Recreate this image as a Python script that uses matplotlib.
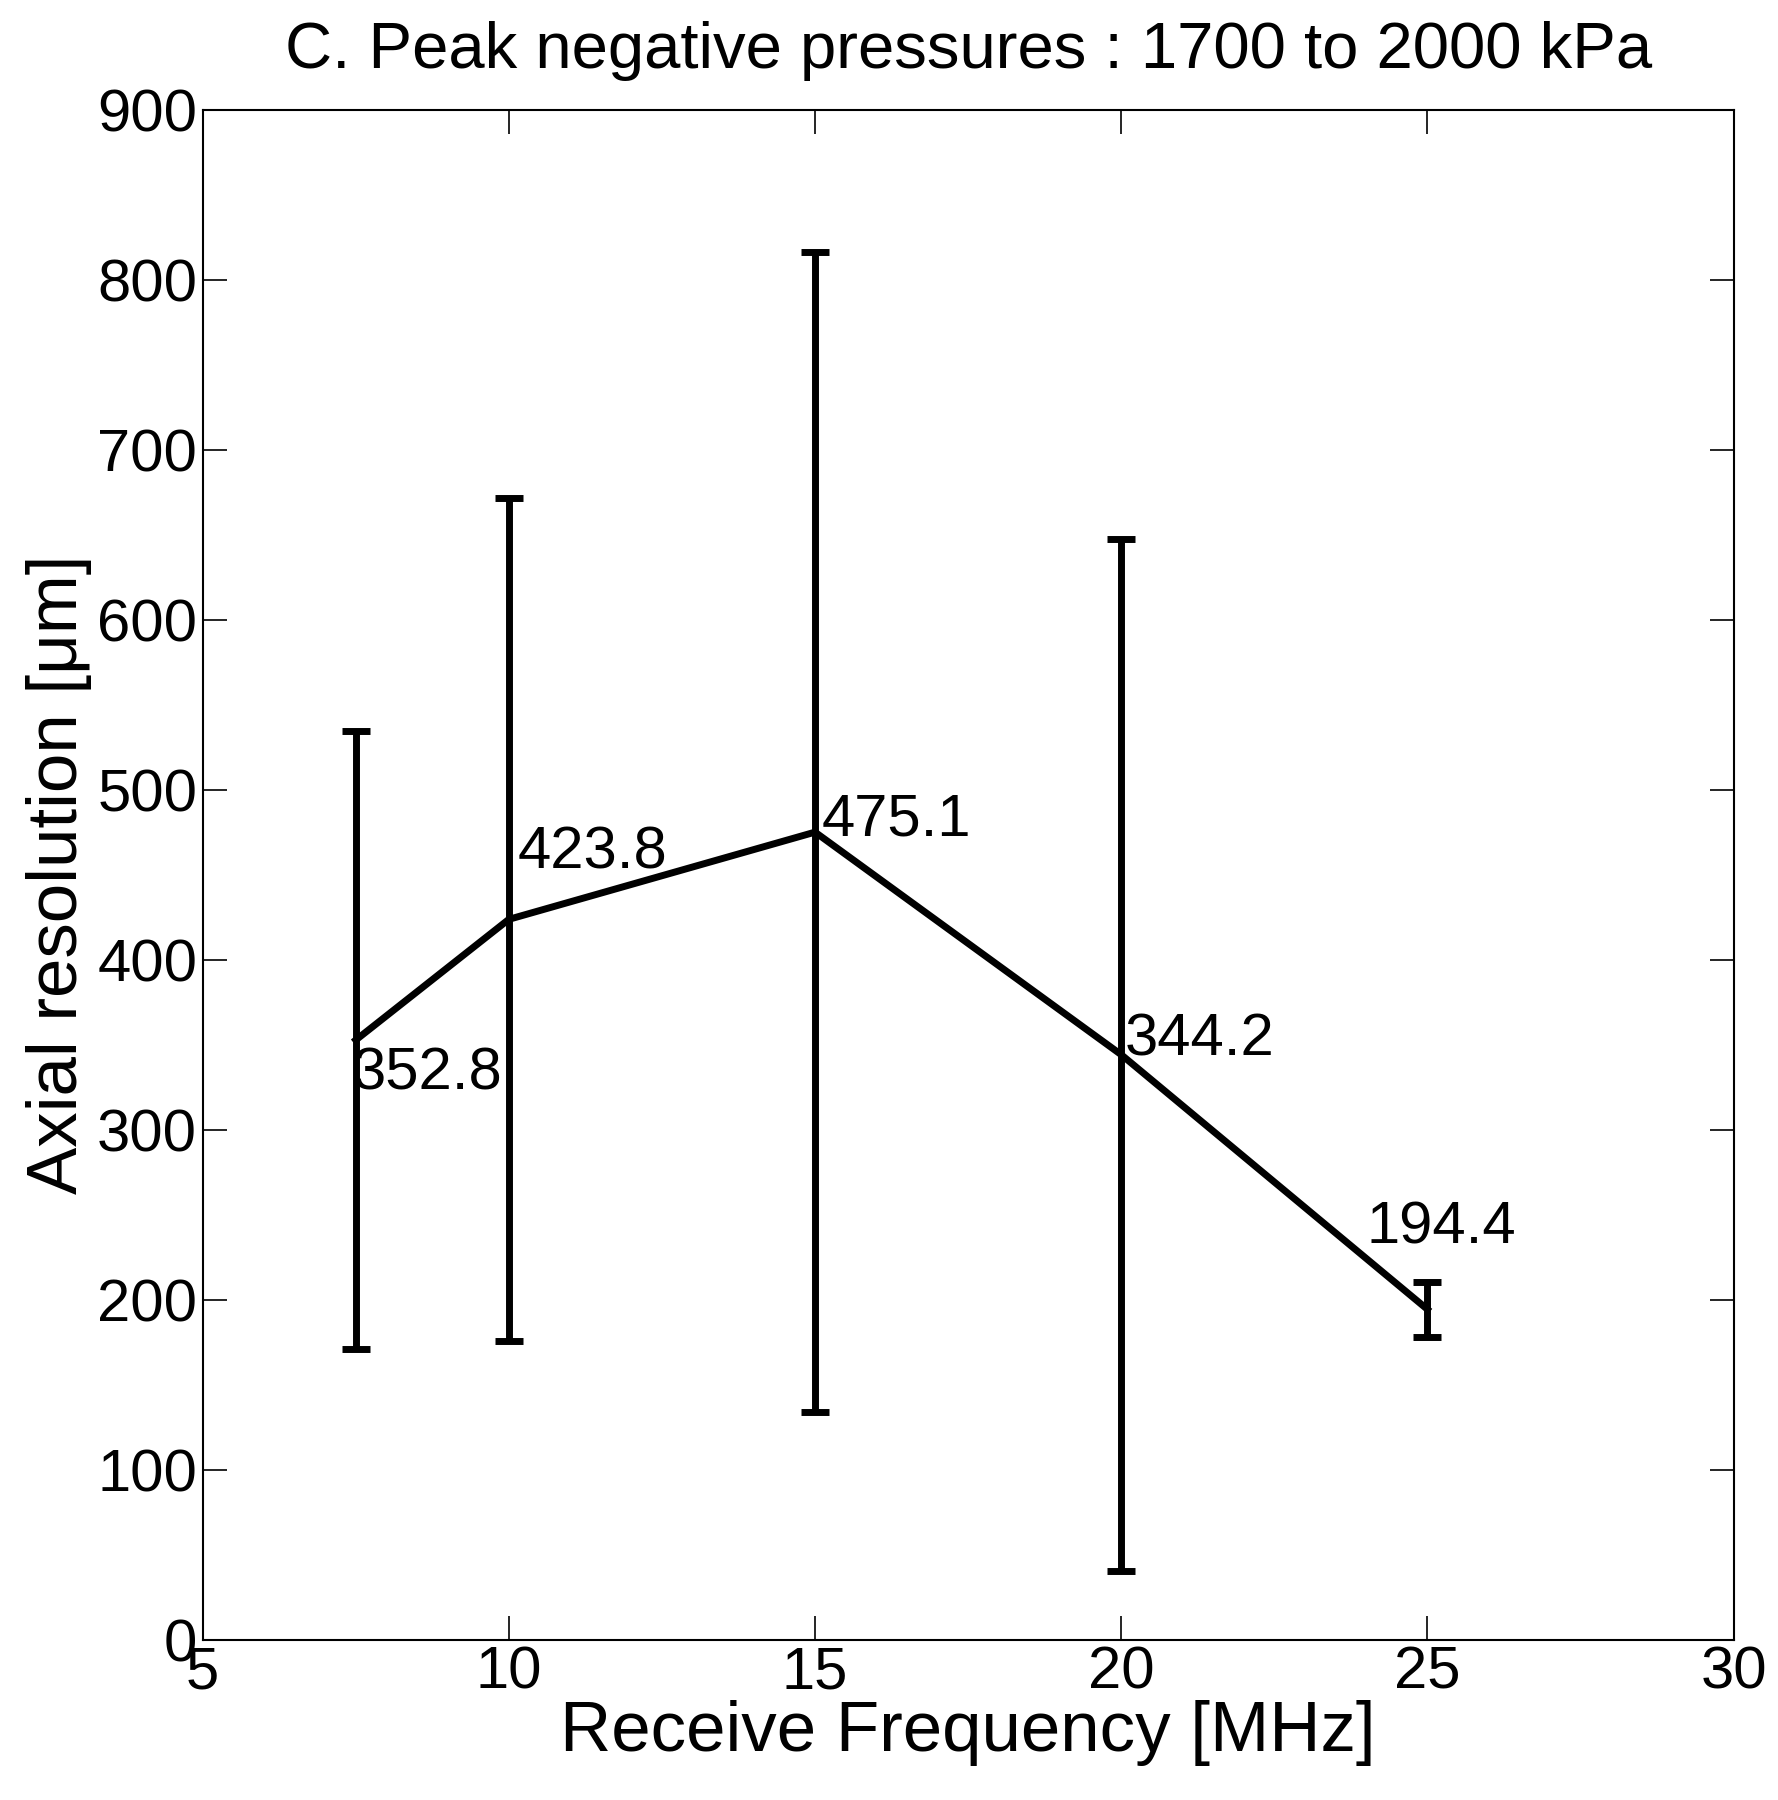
import numpy as np
import matplotlib.pyplot as plt

plt.rcParams['font.family'] = ['Liberation Sans', 'DejaVu Sans']

# frequenze di ricezione e risoluzione assiale
freq = [7.5, 10, 15, 20, 25]
res = [352.8, 423.8, 475.1, 344.2, 194.4]
err = [182, 248, 341, 303.5, 16]

labels = ['352.8', '423.8', '475.1', '344.2', '194.4']
# posizione delle etichette (coordinate dati)
lab_x = [7.45, 10.15, 15.1, 20.05, 24.0]
lab_y = [333, 463, 482, 353, 242]

fig = plt.figure(figsize=(17.78, 18), dpi=100)
ax = fig.add_axes([0.114, 0.089, 0.861, 0.850])

ax.errorbar(freq, res, yerr=err, color='black', linewidth=5,
            elinewidth=5, capsize=10, capthick=5)

for x, y, t in zip(lab_x, lab_y, labels):
    ax.text(x, y, t, fontsize=43, ha='left', va='center')

ax.set_xlim(5, 30)
ax.set_ylim(0, 900)
ax.set_xticks(np.arange(5, 31, 5))
ax.set_yticks(np.arange(0, 901, 100))
ax.tick_params(direction='in', top=True, right=True, length=17, width=1.2,
               labelsize=43, pad=4)
for s in ax.spines.values():
    s.set_linewidth(1.5)

ax.set_xlabel('Receive Frequency [MHz]', fontsize=51, labelpad=0)
ax.set_ylabel('Axial resolution [\u03bcm]', fontsize=51, labelpad=4)
ax.set_title('C. Peak negative pressures : 1700 to 2000 kPa', fontsize=47, pad=30)

plt.savefig('out.png', dpi=100)
